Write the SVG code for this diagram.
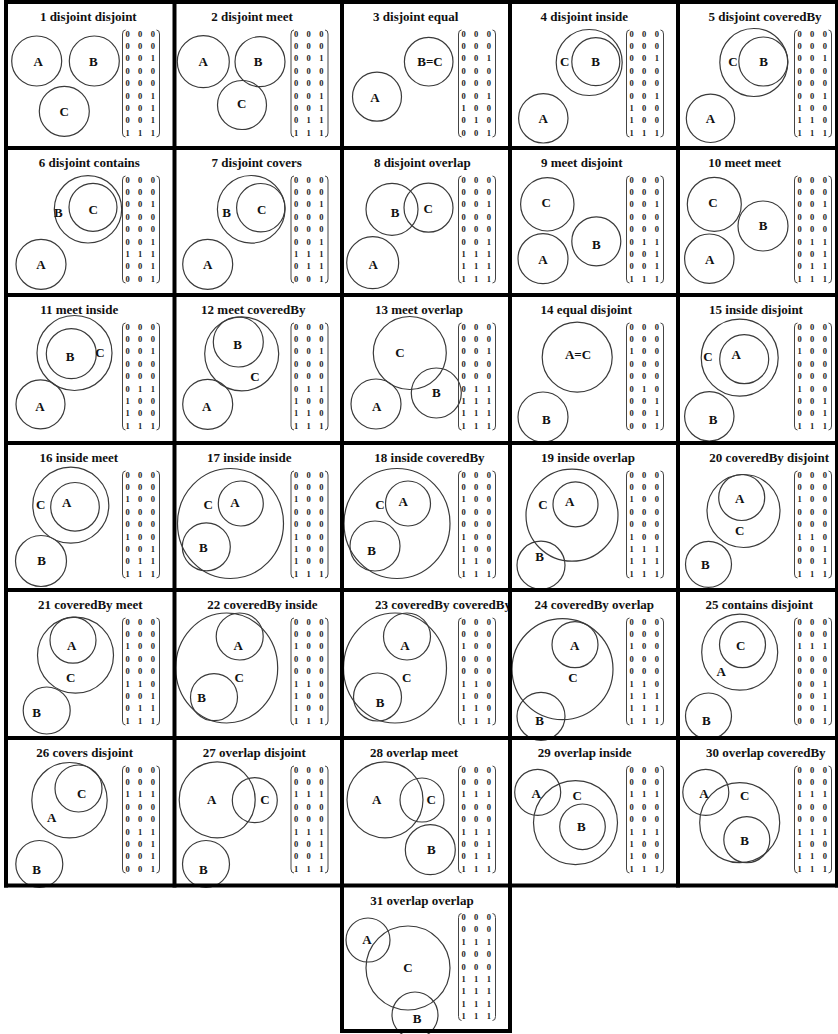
<svg xmlns="http://www.w3.org/2000/svg" xmlns:xlink="http://www.w3.org/1999/xlink" width="838" height="1034" viewBox="0 0 838 1034">
<style>
.c{fill:none;stroke:#3a3a3a;stroke-width:1.2}
.l,.t{font-family:"Liberation Serif",serif;font-size:13px;font-weight:bold;text-anchor:middle;fill:#111}
.m{font-family:"Liberation Serif",serif;font-size:8.5px;font-weight:bold;text-anchor:middle;fill:#222}
.b{fill:none;stroke:#444;stroke-width:1}
.f{stroke:#000;stroke-width:4;fill:none}
</style>
<defs>
<path id="br" class="b" d="M119.5 28Q116.5 28 116.5 32V131Q116.5 135 119.5 135M150.5 28Q153.5 28 153.5 32V131Q153.5 135 150.5 135"/>
</defs>
<rect width="838" height="1034" fill="#fff"/>

<g id="p1">
<text class="t" x="88.3" y="21">1 disjoint disjoint</text>
<circle class="c" cx="36.7" cy="61" r="25"/><circle class="c" cx="94.3" cy="61" r="25"/><circle class="c" cx="64.3" cy="111.3" r="25"/>
<text class="l" x="38.3" y="66">A</text><text class="l" x="93.3" y="66">B</text><text class="l" x="64.3" y="115.5">C</text>
<g transform="translate(6,2)"><use href="#br"/>
<text class="m" x="121.7 134.2 146.8" y="34.5">000</text><text class="m" x="121.7 134.2 146.8" y="46.9">000</text><text class="m" x="121.7 134.2 146.8" y="59.3">001</text><text class="m" x="121.7 134.2 146.8" y="71.7">000</text><text class="m" x="121.7 134.2 146.8" y="84.1">000</text><text class="m" x="121.7 134.2 146.8" y="96.5">001</text><text class="m" x="121.7 134.2 146.8" y="108.9">001</text><text class="m" x="121.7 134.2 146.8" y="121.3">001</text><text class="m" x="121.7 134.2 146.8" y="133.7">111</text></g>
</g>

<g id="p2">
<text class="t" x="252" y="21">2 disjoint meet</text>
<circle class="c" cx="203.3" cy="61.7" r="26"/><circle class="c" cx="260" cy="61.7" r="25"/><circle class="c" cx="242" cy="105" r="24.5"/>
<text class="l" x="203.3" y="66">A</text><text class="l" x="258" y="66">B</text><text class="l" x="241.7" y="108">C</text>
<g transform="translate(174.5,2)"><use href="#br"/>
<text class="m" x="121.7 134.2 146.8" y="34.5">000</text><text class="m" x="121.7 134.2 146.8" y="46.9">000</text><text class="m" x="121.7 134.2 146.8" y="59.3">001</text><text class="m" x="121.7 134.2 146.8" y="71.7">000</text><text class="m" x="121.7 134.2 146.8" y="84.1">000</text><text class="m" x="121.7 134.2 146.8" y="96.5">001</text><text class="m" x="121.7 134.2 146.8" y="108.9">001</text><text class="m" x="121.7 134.2 146.8" y="121.3">011</text><text class="m" x="121.7 134.2 146.8" y="133.7">111</text></g>
</g>

<g id="p3">
<text class="t" x="415.7" y="21">3 disjoint equal</text>
<circle class="c" cx="377" cy="96.7" r="24.5"/><circle class="c" cx="428.7" cy="61.7" r="24.3"/>
<text class="l" x="375" y="102">A</text><text class="l" x="430" y="66">B=C</text>
<g transform="translate(342,2)"><use href="#br"/>
<text class="m" x="121.7 134.2 146.8" y="34.5">000</text><text class="m" x="121.7 134.2 146.8" y="46.9">000</text><text class="m" x="121.7 134.2 146.8" y="59.3">001</text><text class="m" x="121.7 134.2 146.8" y="71.7">000</text><text class="m" x="121.7 134.2 146.8" y="84.1">000</text><text class="m" x="121.7 134.2 146.8" y="96.5">001</text><text class="m" x="121.7 134.2 146.8" y="108.9">100</text><text class="m" x="121.7 134.2 146.8" y="121.3">010</text><text class="m" x="121.7 134.2 146.8" y="133.7">001</text></g>
</g>

<g id="p4">
<text class="t" x="584.3" y="21">4 disjoint inside</text>
<circle class="c" cx="589.2" cy="62.5" r="33"/><circle class="c" cx="595.8" cy="61.7" r="24"/><circle class="c" cx="543.3" cy="118.3" r="24.7"/>
<text class="l" x="564.7" y="66">C</text><text class="l" x="595.7" y="66">B</text><text class="l" x="543.3" y="122.5">A</text>
<g transform="translate(510,2)"><use href="#br"/>
<text class="m" x="121.7 134.2 146.8" y="34.5">000</text><text class="m" x="121.7 134.2 146.8" y="46.9">000</text><text class="m" x="121.7 134.2 146.8" y="59.3">001</text><text class="m" x="121.7 134.2 146.8" y="71.7">000</text><text class="m" x="121.7 134.2 146.8" y="84.1">000</text><text class="m" x="121.7 134.2 146.8" y="96.5">001</text><text class="m" x="121.7 134.2 146.8" y="108.9">100</text><text class="m" x="121.7 134.2 146.8" y="121.3">100</text><text class="m" x="121.7 134.2 146.8" y="133.7">111</text></g>
</g>

<g id="p5">
<text class="t" x="765" y="21">5 disjoint coveredBy</text>
<circle class="c" cx="753.8" cy="62.5" r="34"/><circle class="c" cx="763.3" cy="61.5" r="24.5"/><circle class="c" cx="710.5" cy="118.3" r="24.2"/>
<text class="l" x="733" y="66">C</text><text class="l" x="763.7" y="66">B</text><text class="l" x="710.5" y="122.5">A</text>
<g transform="translate(678,2)"><use href="#br"/>
<text class="m" x="121.7 134.2 146.8" y="34.5">000</text><text class="m" x="121.7 134.2 146.8" y="46.9">000</text><text class="m" x="121.7 134.2 146.8" y="59.3">001</text><text class="m" x="121.7 134.2 146.8" y="71.7">000</text><text class="m" x="121.7 134.2 146.8" y="84.1">000</text><text class="m" x="121.7 134.2 146.8" y="96.5">001</text><text class="m" x="121.7 134.2 146.8" y="108.9">100</text><text class="m" x="121.7 134.2 146.8" y="121.3">110</text><text class="m" x="121.7 134.2 146.8" y="133.7">111</text></g>
</g>

<g id="p6">
<text class="t" x="89.3" y="167">6 disjoint contains</text>
<circle class="c" cx="88" cy="209.3" r="33.7"/><circle class="c" cx="93" cy="207.3" r="24"/><circle class="c" cx="41" cy="264.3" r="25"/>
<text class="l" x="58.3" y="217">B</text><text class="l" x="93.3" y="213.5">C</text><text class="l" x="41" y="268.5">A</text>
<g transform="translate(6,148)"><use href="#br"/>
<text class="m" x="121.7 134.2 146.8" y="34.5">000</text><text class="m" x="121.7 134.2 146.8" y="46.9">000</text><text class="m" x="121.7 134.2 146.8" y="59.3">001</text><text class="m" x="121.7 134.2 146.8" y="71.7">000</text><text class="m" x="121.7 134.2 146.8" y="84.1">000</text><text class="m" x="121.7 134.2 146.8" y="96.5">001</text><text class="m" x="121.7 134.2 146.8" y="108.9">111</text><text class="m" x="121.7 134.2 146.8" y="121.3">001</text><text class="m" x="121.7 134.2 146.8" y="133.7">001</text></g>
</g>

<g id="p7">
<text class="t" x="256.7" y="167">7 disjoint covers</text>
<circle class="c" cx="251.2" cy="209.3" r="33.8"/><circle class="c" cx="260.8" cy="207.7" r="24.2"/><circle class="c" cx="207.7" cy="264.3" r="25"/>
<text class="l" x="226.7" y="217">B</text><text class="l" x="261.7" y="213.5">C</text><text class="l" x="207.7" y="268.5">A</text>
<g transform="translate(174.5,148)"><use href="#br"/>
<text class="m" x="121.7 134.2 146.8" y="34.5">000</text><text class="m" x="121.7 134.2 146.8" y="46.9">000</text><text class="m" x="121.7 134.2 146.8" y="59.3">001</text><text class="m" x="121.7 134.2 146.8" y="71.7">000</text><text class="m" x="121.7 134.2 146.8" y="84.1">000</text><text class="m" x="121.7 134.2 146.8" y="96.5">001</text><text class="m" x="121.7 134.2 146.8" y="108.9">111</text><text class="m" x="121.7 134.2 146.8" y="121.3">011</text><text class="m" x="121.7 134.2 146.8" y="133.7">001</text></g>
</g>

<g id="p8">
<text class="t" x="422.3" y="167">8 disjoint overlap</text>
<circle class="c" cx="392" cy="209.3" r="26"/><circle class="c" cx="428.5" cy="207.7" r="24.5"/><circle class="c" cx="372.7" cy="262.7" r="26"/>
<text class="l" x="395" y="217">B</text><text class="l" x="428.3" y="213">C</text><text class="l" x="373.3" y="268.5">A</text>
<g transform="translate(342,148)"><use href="#br"/>
<text class="m" x="121.7 134.2 146.8" y="34.5">000</text><text class="m" x="121.7 134.2 146.8" y="46.9">000</text><text class="m" x="121.7 134.2 146.8" y="59.3">001</text><text class="m" x="121.7 134.2 146.8" y="71.7">000</text><text class="m" x="121.7 134.2 146.8" y="84.1">000</text><text class="m" x="121.7 134.2 146.8" y="96.5">001</text><text class="m" x="121.7 134.2 146.8" y="108.9">111</text><text class="m" x="121.7 134.2 146.8" y="121.3">111</text><text class="m" x="121.7 134.2 146.8" y="133.7">111</text></g>
</g>

<g id="p9">
<text class="t" x="581.8" y="167">9 meet disjoint</text>
<circle class="c" cx="547.3" cy="204.3" r="26.7"/><circle class="c" cx="543" cy="258.7" r="25"/><circle class="c" cx="596.3" cy="241.3" r="24.5"/>
<text class="l" x="546.3" y="207">C</text><text class="l" x="543" y="263.5">A</text><text class="l" x="596.3" y="248.5">B</text>
<g transform="translate(510,148)"><use href="#br"/>
<text class="m" x="121.7 134.2 146.8" y="34.5">000</text><text class="m" x="121.7 134.2 146.8" y="46.9">000</text><text class="m" x="121.7 134.2 146.8" y="59.3">001</text><text class="m" x="121.7 134.2 146.8" y="71.7">000</text><text class="m" x="121.7 134.2 146.8" y="84.1">000</text><text class="m" x="121.7 134.2 146.8" y="96.5">011</text><text class="m" x="121.7 134.2 146.8" y="108.9">001</text><text class="m" x="121.7 134.2 146.8" y="121.3">001</text><text class="m" x="121.7 134.2 146.8" y="133.7">111</text></g>
</g>

<g id="p10">
<text class="t" x="744.7" y="167">10 meet meet</text>
<circle class="c" cx="714.3" cy="204.3" r="27"/><circle class="c" cx="709.3" cy="258.7" r="24.7"/><circle class="c" cx="763" cy="226" r="25"/>
<text class="l" x="713" y="207">C</text><text class="l" x="709.7" y="263.5">A</text><text class="l" x="763" y="230.3">B</text>
<g transform="translate(678,148)"><use href="#br"/>
<text class="m" x="121.7 134.2 146.8" y="34.5">000</text><text class="m" x="121.7 134.2 146.8" y="46.9">000</text><text class="m" x="121.7 134.2 146.8" y="59.3">001</text><text class="m" x="121.7 134.2 146.8" y="71.7">000</text><text class="m" x="121.7 134.2 146.8" y="84.1">000</text><text class="m" x="121.7 134.2 146.8" y="96.5">011</text><text class="m" x="121.7 134.2 146.8" y="108.9">001</text><text class="m" x="121.7 134.2 146.8" y="121.3">011</text><text class="m" x="121.7 134.2 146.8" y="133.7">111</text></g>
</g>

<g id="p11">
<text class="t" x="79.2" y="314">11 meet inside</text>
<circle class="c" cx="74.5" cy="353" r="37.5"/><circle class="c" cx="71.3" cy="353.7" r="25"/><circle class="c" cx="40.5" cy="404.3" r="24.5"/>
<text class="l" x="70" y="360.5">B</text><text class="l" x="100" y="357.3">C</text><text class="l" x="40" y="411">A</text>
<g transform="translate(6,295)"><use href="#br"/>
<text class="m" x="121.7 134.2 146.8" y="34.5">000</text><text class="m" x="121.7 134.2 146.8" y="46.9">000</text><text class="m" x="121.7 134.2 146.8" y="59.3">001</text><text class="m" x="121.7 134.2 146.8" y="71.7">000</text><text class="m" x="121.7 134.2 146.8" y="84.1">000</text><text class="m" x="121.7 134.2 146.8" y="96.5">011</text><text class="m" x="121.7 134.2 146.8" y="108.9">100</text><text class="m" x="121.7 134.2 146.8" y="121.3">100</text><text class="m" x="121.7 134.2 146.8" y="133.7">111</text></g>
</g>

<g id="p12">
<text class="t" x="253.3" y="314">12 meet coveredBy</text>
<circle class="c" cx="241.7" cy="353.8" r="37"/><circle class="c" cx="238.3" cy="342" r="25"/><circle class="c" cx="207.7" cy="404.3" r="25"/>
<text class="l" x="237.7" y="349">B</text><text class="l" x="255" y="380.5">C</text><text class="l" x="206.7" y="411">A</text>
<g transform="translate(174.5,295)"><use href="#br"/>
<text class="m" x="121.7 134.2 146.8" y="34.5">000</text><text class="m" x="121.7 134.2 146.8" y="46.9">000</text><text class="m" x="121.7 134.2 146.8" y="59.3">001</text><text class="m" x="121.7 134.2 146.8" y="71.7">000</text><text class="m" x="121.7 134.2 146.8" y="84.1">000</text><text class="m" x="121.7 134.2 146.8" y="96.5">011</text><text class="m" x="121.7 134.2 146.8" y="108.9">100</text><text class="m" x="121.7 134.2 146.8" y="121.3">110</text><text class="m" x="121.7 134.2 146.8" y="133.7">111</text></g>
</g>

<g id="p13">
<text class="t" x="419" y="314">13 meet overlap</text>
<circle class="c" cx="409.8" cy="353" r="36.5"/><circle class="c" cx="376" cy="404" r="25"/><circle class="c" cx="436.3" cy="393" r="25"/>
<text class="l" x="400" y="357.3">C</text><text class="l" x="376.7" y="411">A</text><text class="l" x="436.3" y="397.3">B</text>
<g transform="translate(342,295)"><use href="#br"/>
<text class="m" x="121.7 134.2 146.8" y="34.5">000</text><text class="m" x="121.7 134.2 146.8" y="46.9">000</text><text class="m" x="121.7 134.2 146.8" y="59.3">001</text><text class="m" x="121.7 134.2 146.8" y="71.7">000</text><text class="m" x="121.7 134.2 146.8" y="84.1">000</text><text class="m" x="121.7 134.2 146.8" y="96.5">011</text><text class="m" x="121.7 134.2 146.8" y="108.9">111</text><text class="m" x="121.7 134.2 146.8" y="121.3">111</text><text class="m" x="121.7 134.2 146.8" y="133.7">111</text></g>
</g>

<g id="p14">
<text class="t" x="586.3" y="314">14 equal disjoint</text>
<circle class="c" cx="577.2" cy="357.2" r="35"/><circle class="c" cx="543" cy="417" r="25"/>
<text class="l" x="578" y="359">A=C</text><text class="l" x="546.3" y="424">B</text>
<g transform="translate(510,295)"><use href="#br"/>
<text class="m" x="121.7 134.2 146.8" y="34.5">000</text><text class="m" x="121.7 134.2 146.8" y="46.9">000</text><text class="m" x="121.7 134.2 146.8" y="59.3">100</text><text class="m" x="121.7 134.2 146.8" y="71.7">000</text><text class="m" x="121.7 134.2 146.8" y="84.1">000</text><text class="m" x="121.7 134.2 146.8" y="96.5">010</text><text class="m" x="121.7 134.2 146.8" y="108.9">001</text><text class="m" x="121.7 134.2 146.8" y="121.3">001</text><text class="m" x="121.7 134.2 146.8" y="133.7">001</text></g>
</g>

<g id="p15">
<text class="t" x="756" y="314">15 inside disjoint</text>
<circle class="c" cx="739.7" cy="357.7" r="38.5"/><circle class="c" cx="744.2" cy="359.2" r="24.5"/><circle class="c" cx="709.3" cy="416.3" r="24.7"/>
<text class="l" x="708" y="360.5">C</text><text class="l" x="736.3" y="359">A</text><text class="l" x="713" y="424">B</text>
<g transform="translate(678,295)"><use href="#br"/>
<text class="m" x="121.7 134.2 146.8" y="34.5">000</text><text class="m" x="121.7 134.2 146.8" y="46.9">000</text><text class="m" x="121.7 134.2 146.8" y="59.3">100</text><text class="m" x="121.7 134.2 146.8" y="71.7">000</text><text class="m" x="121.7 134.2 146.8" y="84.1">000</text><text class="m" x="121.7 134.2 146.8" y="96.5">100</text><text class="m" x="121.7 134.2 146.8" y="108.9">001</text><text class="m" x="121.7 134.2 146.8" y="121.3">001</text><text class="m" x="121.7 134.2 146.8" y="133.7">111</text></g>
</g>

<g id="p16">
<text class="t" x="78.8" y="462">16 inside meet</text>
<circle class="c" cx="70.8" cy="505.2" r="38"/><circle class="c" cx="75" cy="506.8" r="24.3"/><circle class="c" cx="41" cy="561" r="25.5"/>
<text class="l" x="40.7" y="508.5">C</text><text class="l" x="66.7" y="507">A</text><text class="l" x="41.7" y="565.3">B</text>
<g transform="translate(6,443)"><use href="#br"/>
<text class="m" x="121.7 134.2 146.8" y="34.5">000</text><text class="m" x="121.7 134.2 146.8" y="46.9">000</text><text class="m" x="121.7 134.2 146.8" y="59.3">100</text><text class="m" x="121.7 134.2 146.8" y="71.7">000</text><text class="m" x="121.7 134.2 146.8" y="84.1">000</text><text class="m" x="121.7 134.2 146.8" y="96.5">100</text><text class="m" x="121.7 134.2 146.8" y="108.9">001</text><text class="m" x="121.7 134.2 146.8" y="121.3">011</text><text class="m" x="121.7 134.2 146.8" y="133.7">111</text></g>
</g>

<g id="p17">
<text class="t" x="249.2" y="462">17 inside inside</text>
<ellipse class="c" cx="230.5" cy="523.5" rx="53" ry="55"/><circle class="c" cx="240.8" cy="503.5" r="22.5"/><circle class="c" cx="206.3" cy="546.8" r="24"/>
<text class="l" x="208.3" y="508.5">C</text><text class="l" x="235" y="507">A</text><text class="l" x="203.3" y="552">B</text>
<g transform="translate(174.5,443)"><use href="#br"/>
<text class="m" x="121.7 134.2 146.8" y="34.5">000</text><text class="m" x="121.7 134.2 146.8" y="46.9">000</text><text class="m" x="121.7 134.2 146.8" y="59.3">100</text><text class="m" x="121.7 134.2 146.8" y="71.7">000</text><text class="m" x="121.7 134.2 146.8" y="84.1">000</text><text class="m" x="121.7 134.2 146.8" y="96.5">100</text><text class="m" x="121.7 134.2 146.8" y="108.9">100</text><text class="m" x="121.7 134.2 146.8" y="121.3">100</text><text class="m" x="121.7 134.2 146.8" y="133.7">111</text></g>
</g>

<g id="p18">
<text class="t" x="429.5" y="462">18 inside coveredBy</text>
<ellipse class="c" cx="397" cy="523.5" rx="53" ry="55"/><circle class="c" cx="408" cy="503.5" r="22.5"/><circle class="c" cx="375" cy="546" r="25"/>
<text class="l" x="380" y="508.5">C</text><text class="l" x="403.3" y="505.5">A</text><text class="l" x="371.7" y="555">B</text>
<g transform="translate(342,443)"><use href="#br"/>
<text class="m" x="121.7 134.2 146.8" y="34.5">000</text><text class="m" x="121.7 134.2 146.8" y="46.9">000</text><text class="m" x="121.7 134.2 146.8" y="59.3">100</text><text class="m" x="121.7 134.2 146.8" y="71.7">000</text><text class="m" x="121.7 134.2 146.8" y="84.1">000</text><text class="m" x="121.7 134.2 146.8" y="96.5">100</text><text class="m" x="121.7 134.2 146.8" y="108.9">100</text><text class="m" x="121.7 134.2 146.8" y="121.3">110</text><text class="m" x="121.7 134.2 146.8" y="133.7">111</text></g>
</g>

<g id="p19">
<text class="t" x="588" y="462">19 inside overlap</text>
<circle class="c" cx="572" cy="515.2" r="46"/><circle class="c" cx="575.5" cy="504.3" r="22.5"/><circle class="c" cx="541" cy="565.2" r="24"/>
<text class="l" x="543" y="508.5">C</text><text class="l" x="569.7" y="505.5">A</text><text class="l" x="539.7" y="560.5">B</text>
<g transform="translate(510,443)"><use href="#br"/>
<text class="m" x="121.7 134.2 146.8" y="34.5">000</text><text class="m" x="121.7 134.2 146.8" y="46.9">000</text><text class="m" x="121.7 134.2 146.8" y="59.3">100</text><text class="m" x="121.7 134.2 146.8" y="71.7">000</text><text class="m" x="121.7 134.2 146.8" y="84.1">000</text><text class="m" x="121.7 134.2 146.8" y="96.5">100</text><text class="m" x="121.7 134.2 146.8" y="108.9">111</text><text class="m" x="121.7 134.2 146.8" y="121.3">111</text><text class="m" x="121.7 134.2 146.8" y="133.7">111</text></g>
</g>

<g id="p20">
<text class="t" x="769.2" y="462">20 coveredBy disjoint</text>
<circle class="c" cx="743.5" cy="511" r="36.5"/><circle class="c" cx="741.7" cy="497.5" r="23"/><circle class="c" cx="708.5" cy="564.3" r="23"/>
<text class="l" x="739.7" y="502.5">A</text><text class="l" x="739.7" y="535.3">C</text><text class="l" x="705.3" y="569.3">B</text>
<g transform="translate(678,443)"><use href="#br"/>
<text class="m" x="121.7 134.2 146.8" y="34.5">000</text><text class="m" x="121.7 134.2 146.8" y="46.9">000</text><text class="m" x="121.7 134.2 146.8" y="59.3">100</text><text class="m" x="121.7 134.2 146.8" y="71.7">000</text><text class="m" x="121.7 134.2 146.8" y="84.1">000</text><text class="m" x="121.7 134.2 146.8" y="96.5">110</text><text class="m" x="121.7 134.2 146.8" y="108.9">001</text><text class="m" x="121.7 134.2 146.8" y="121.3">001</text><text class="m" x="121.7 134.2 146.8" y="133.7">111</text></g>
</g>

<g id="p21">
<text class="t" x="90.3" y="609">21 coveredBy meet</text>
<circle class="c" cx="75.5" cy="655.2" r="38"/><circle class="c" cx="73" cy="640.2" r="23"/><circle class="c" cx="46.7" cy="710.5" r="23.5"/>
<text class="l" x="71.7" y="649.5">A</text><text class="l" x="70.7" y="682.3">C</text><text class="l" x="36.7" y="717.3">B</text>
<g transform="translate(6,590)"><use href="#br"/>
<text class="m" x="121.7 134.2 146.8" y="34.5">000</text><text class="m" x="121.7 134.2 146.8" y="46.9">000</text><text class="m" x="121.7 134.2 146.8" y="59.3">100</text><text class="m" x="121.7 134.2 146.8" y="71.7">000</text><text class="m" x="121.7 134.2 146.8" y="84.1">000</text><text class="m" x="121.7 134.2 146.8" y="96.5">110</text><text class="m" x="121.7 134.2 146.8" y="108.9">001</text><text class="m" x="121.7 134.2 146.8" y="121.3">011</text><text class="m" x="121.7 134.2 146.8" y="133.7">111</text></g>
</g>

<g id="p22">
<text class="t" x="262.5" y="609">22 coveredBy inside</text>
<ellipse class="c" cx="226.7" cy="668" rx="51" ry="55"/><circle class="c" cx="239.7" cy="636.5" r="23.5"/><circle class="c" cx="214" cy="697.2" r="23.5"/>
<text class="l" x="238.3" y="649.5">A</text><text class="l" x="239.3" y="681.5">C</text><text class="l" x="201.7" y="701.5">B</text>
<g transform="translate(174.5,590)"><use href="#br"/>
<text class="m" x="121.7 134.2 146.8" y="34.5">000</text><text class="m" x="121.7 134.2 146.8" y="46.9">000</text><text class="m" x="121.7 134.2 146.8" y="59.3">100</text><text class="m" x="121.7 134.2 146.8" y="71.7">000</text><text class="m" x="121.7 134.2 146.8" y="84.1">000</text><text class="m" x="121.7 134.2 146.8" y="96.5">110</text><text class="m" x="121.7 134.2 146.8" y="108.9">100</text><text class="m" x="121.7 134.2 146.8" y="121.3">100</text><text class="m" x="121.7 134.2 146.8" y="133.7">111</text></g>
</g>

<g id="p23">
<text class="t" x="375" y="609" style="text-anchor:start">23 coveredBy coveredBy</text>
<ellipse class="c" cx="395" cy="668" rx="51.5" ry="55"/><circle class="c" cx="407" cy="636.5" r="23.5"/><circle class="c" cx="377.5" cy="697" r="24"/>
<text class="l" x="405" y="649.5">A</text><text class="l" x="406.7" y="682.3">C</text><text class="l" x="380" y="707">B</text>
<g transform="translate(342,590)"><use href="#br"/>
<text class="m" x="121.7 134.2 146.8" y="34.5">000</text><text class="m" x="121.7 134.2 146.8" y="46.9">000</text><text class="m" x="121.7 134.2 146.8" y="59.3">100</text><text class="m" x="121.7 134.2 146.8" y="71.7">000</text><text class="m" x="121.7 134.2 146.8" y="84.1">000</text><text class="m" x="121.7 134.2 146.8" y="96.5">110</text><text class="m" x="121.7 134.2 146.8" y="108.9">100</text><text class="m" x="121.7 134.2 146.8" y="121.3">110</text><text class="m" x="121.7 134.2 146.8" y="133.7">111</text></g>
</g>

<g id="p24">
<text class="t" x="594.2" y="609">24 coveredBy overlap</text>
<circle class="c" cx="562.5" cy="669.2" r="50.5"/><circle class="c" cx="575" cy="644.7" r="23"/><circle class="c" cx="541" cy="716.3" r="24"/>
<text class="l" x="574.7" y="649.5">A</text><text class="l" x="573" y="682.3">C</text><text class="l" x="539.7" y="725">B</text>
<g transform="translate(510,590)"><use href="#br"/>
<text class="m" x="121.7 134.2 146.8" y="34.5">000</text><text class="m" x="121.7 134.2 146.8" y="46.9">000</text><text class="m" x="121.7 134.2 146.8" y="59.3">100</text><text class="m" x="121.7 134.2 146.8" y="71.7">000</text><text class="m" x="121.7 134.2 146.8" y="84.1">000</text><text class="m" x="121.7 134.2 146.8" y="96.5">110</text><text class="m" x="121.7 134.2 146.8" y="108.9">111</text><text class="m" x="121.7 134.2 146.8" y="121.3">111</text><text class="m" x="121.7 134.2 146.8" y="133.7">111</text></g>
</g>

<g id="p25">
<text class="t" x="759.2" y="609">25 contains disjoint</text>
<circle class="c" cx="739.7" cy="652.2" r="38"/><circle class="c" cx="742.5" cy="644.7" r="23"/><circle class="c" cx="708.5" cy="716" r="23"/>
<text class="l" x="740.7" y="649.5">C</text><text class="l" x="721.3" y="675.5">A</text><text class="l" x="706.3" y="725">B</text>
<g transform="translate(678,590)"><use href="#br"/>
<text class="m" x="121.7 134.2 146.8" y="34.5">000</text><text class="m" x="121.7 134.2 146.8" y="46.9">000</text><text class="m" x="121.7 134.2 146.8" y="59.3">111</text><text class="m" x="121.7 134.2 146.8" y="71.7">000</text><text class="m" x="121.7 134.2 146.8" y="84.1">000</text><text class="m" x="121.7 134.2 146.8" y="96.5">001</text><text class="m" x="121.7 134.2 146.8" y="108.9">001</text><text class="m" x="121.7 134.2 146.8" y="121.3">001</text><text class="m" x="121.7 134.2 146.8" y="133.7">001</text></g>
</g>

<g id="p26">
<text class="t" x="84.7" y="757">26 covers disjoint</text>
<circle class="c" cx="69.5" cy="800.2" r="37.7"/><circle class="c" cx="78.5" cy="788.5" r="23.5"/><circle class="c" cx="39.3" cy="864" r="23.5"/>
<text class="l" x="81.7" y="797.5">C</text><text class="l" x="51.7" y="822">A</text><text class="l" x="36.7" y="873.5">B</text>
<g transform="translate(6,738)"><use href="#br"/>
<text class="m" x="121.7 134.2 146.8" y="34.5">000</text><text class="m" x="121.7 134.2 146.8" y="46.9">000</text><text class="m" x="121.7 134.2 146.8" y="59.3">111</text><text class="m" x="121.7 134.2 146.8" y="71.7">000</text><text class="m" x="121.7 134.2 146.8" y="84.1">000</text><text class="m" x="121.7 134.2 146.8" y="96.5">011</text><text class="m" x="121.7 134.2 146.8" y="108.9">001</text><text class="m" x="121.7 134.2 146.8" y="121.3">001</text><text class="m" x="121.7 134.2 146.8" y="133.7">001</text></g>
</g>

<g id="p27">
<text class="t" x="254.3" y="757">27 overlap disjoint</text>
<circle class="c" cx="217.2" cy="799.8" r="38"/><circle class="c" cx="254.8" cy="800.2" r="22.5"/><circle class="c" cx="206" cy="864" r="23.5"/>
<text class="l" x="211.7" y="803.5">A</text><text class="l" x="265" y="803.5">C</text><text class="l" x="203.3" y="873.5">B</text>
<g transform="translate(174.5,738)"><use href="#br"/>
<text class="m" x="121.7 134.2 146.8" y="34.5">000</text><text class="m" x="121.7 134.2 146.8" y="46.9">000</text><text class="m" x="121.7 134.2 146.8" y="59.3">111</text><text class="m" x="121.7 134.2 146.8" y="71.7">000</text><text class="m" x="121.7 134.2 146.8" y="84.1">000</text><text class="m" x="121.7 134.2 146.8" y="96.5">111</text><text class="m" x="121.7 134.2 146.8" y="108.9">001</text><text class="m" x="121.7 134.2 146.8" y="121.3">001</text><text class="m" x="121.7 134.2 146.8" y="133.7">111</text></g>
</g>

<g id="p28">
<text class="t" x="414" y="757">28 overlap meet</text>
<circle class="c" cx="385" cy="799.8" r="38"/><circle class="c" cx="422" cy="800" r="22"/><circle class="c" cx="430.3" cy="849.7" r="25"/>
<text class="l" x="376.7" y="803.5">A</text><text class="l" x="431.3" y="804.3">C</text><text class="l" x="431.3" y="853.5">B</text>
<g transform="translate(342,738)"><use href="#br"/>
<text class="m" x="121.7 134.2 146.8" y="34.5">000</text><text class="m" x="121.7 134.2 146.8" y="46.9">000</text><text class="m" x="121.7 134.2 146.8" y="59.3">111</text><text class="m" x="121.7 134.2 146.8" y="71.7">000</text><text class="m" x="121.7 134.2 146.8" y="84.1">000</text><text class="m" x="121.7 134.2 146.8" y="96.5">111</text><text class="m" x="121.7 134.2 146.8" y="108.9">001</text><text class="m" x="121.7 134.2 146.8" y="121.3">011</text><text class="m" x="121.7 134.2 146.8" y="133.7">111</text></g>
</g>

<g id="p29">
<text class="t" x="584.7" y="757">29 overlap inside</text>
<circle class="c" cx="537.7" cy="792.3" r="23"/><circle class="c" cx="575.5" cy="822.7" r="42"/><circle class="c" cx="582.5" cy="826.8" r="22.8"/>
<text class="l" x="536.3" y="797.5">A</text><text class="l" x="577.3" y="800.3">C</text><text class="l" x="581.3" y="831">B</text>
<g transform="translate(510,738)"><use href="#br"/>
<text class="m" x="121.7 134.2 146.8" y="34.5">000</text><text class="m" x="121.7 134.2 146.8" y="46.9">000</text><text class="m" x="121.7 134.2 146.8" y="59.3">111</text><text class="m" x="121.7 134.2 146.8" y="71.7">000</text><text class="m" x="121.7 134.2 146.8" y="84.1">000</text><text class="m" x="121.7 134.2 146.8" y="96.5">111</text><text class="m" x="121.7 134.2 146.8" y="108.9">100</text><text class="m" x="121.7 134.2 146.8" y="121.3">100</text><text class="m" x="121.7 134.2 146.8" y="133.7">111</text></g>
</g>

<g id="p30">
<text class="t" x="765.8" y="757">30 overlap coveredBy</text>
<circle class="c" cx="705.8" cy="792.3" r="23"/><circle class="c" cx="739.7" cy="822.7" r="40"/><circle class="c" cx="746.8" cy="839.7" r="23"/>
<text class="l" x="704" y="797.5">A</text><text class="l" x="744.7" y="800.3">C</text><text class="l" x="744.7" y="845.3">B</text>
<g transform="translate(678,738)"><use href="#br"/>
<text class="m" x="121.7 134.2 146.8" y="34.5">000</text><text class="m" x="121.7 134.2 146.8" y="46.9">000</text><text class="m" x="121.7 134.2 146.8" y="59.3">111</text><text class="m" x="121.7 134.2 146.8" y="71.7">000</text><text class="m" x="121.7 134.2 146.8" y="84.1">000</text><text class="m" x="121.7 134.2 146.8" y="96.5">111</text><text class="m" x="121.7 134.2 146.8" y="108.9">100</text><text class="m" x="121.7 134.2 146.8" y="121.3">110</text><text class="m" x="121.7 134.2 146.8" y="133.7">111</text></g>
</g>

<g id="p31">
<text class="t" x="422" y="904.5">31 overlap overlap</text>
<circle class="c" cx="368" cy="940" r="22"/><circle class="c" cx="408" cy="968" r="42"/><circle class="c" cx="415" cy="1015" r="23"/>
<text class="l" x="367" y="944">A</text><text class="l" x="408" y="972">C</text><text class="l" x="417" y="1023">B</text>
<g transform="translate(342,885.5)"><use href="#br"/>
<text class="m" x="121.7 134.2 146.8" y="34.5">000</text><text class="m" x="121.7 134.2 146.8" y="46.9">000</text><text class="m" x="121.7 134.2 146.8" y="59.3">111</text><text class="m" x="121.7 134.2 146.8" y="71.7">000</text><text class="m" x="121.7 134.2 146.8" y="84.1">000</text><text class="m" x="121.7 134.2 146.8" y="96.5">111</text><text class="m" x="121.7 134.2 146.8" y="108.9">111</text><text class="m" x="121.7 134.2 146.8" y="121.3">111</text><text class="m" x="121.7 134.2 146.8" y="133.7">111</text></g>
</g>

<g id="frame" class="f">
<path d="M4 2H838M4 148H838M4 295H838M4 443H838M4 590H838M4 738H838M4 885.5H838"/>
<path d="M6 0V887.5M174.5 0V887.5M342 0V1033M510 0V1033M678 0V887.5M837 0V887.5M340 1031H512"/>
</g>
</svg>
